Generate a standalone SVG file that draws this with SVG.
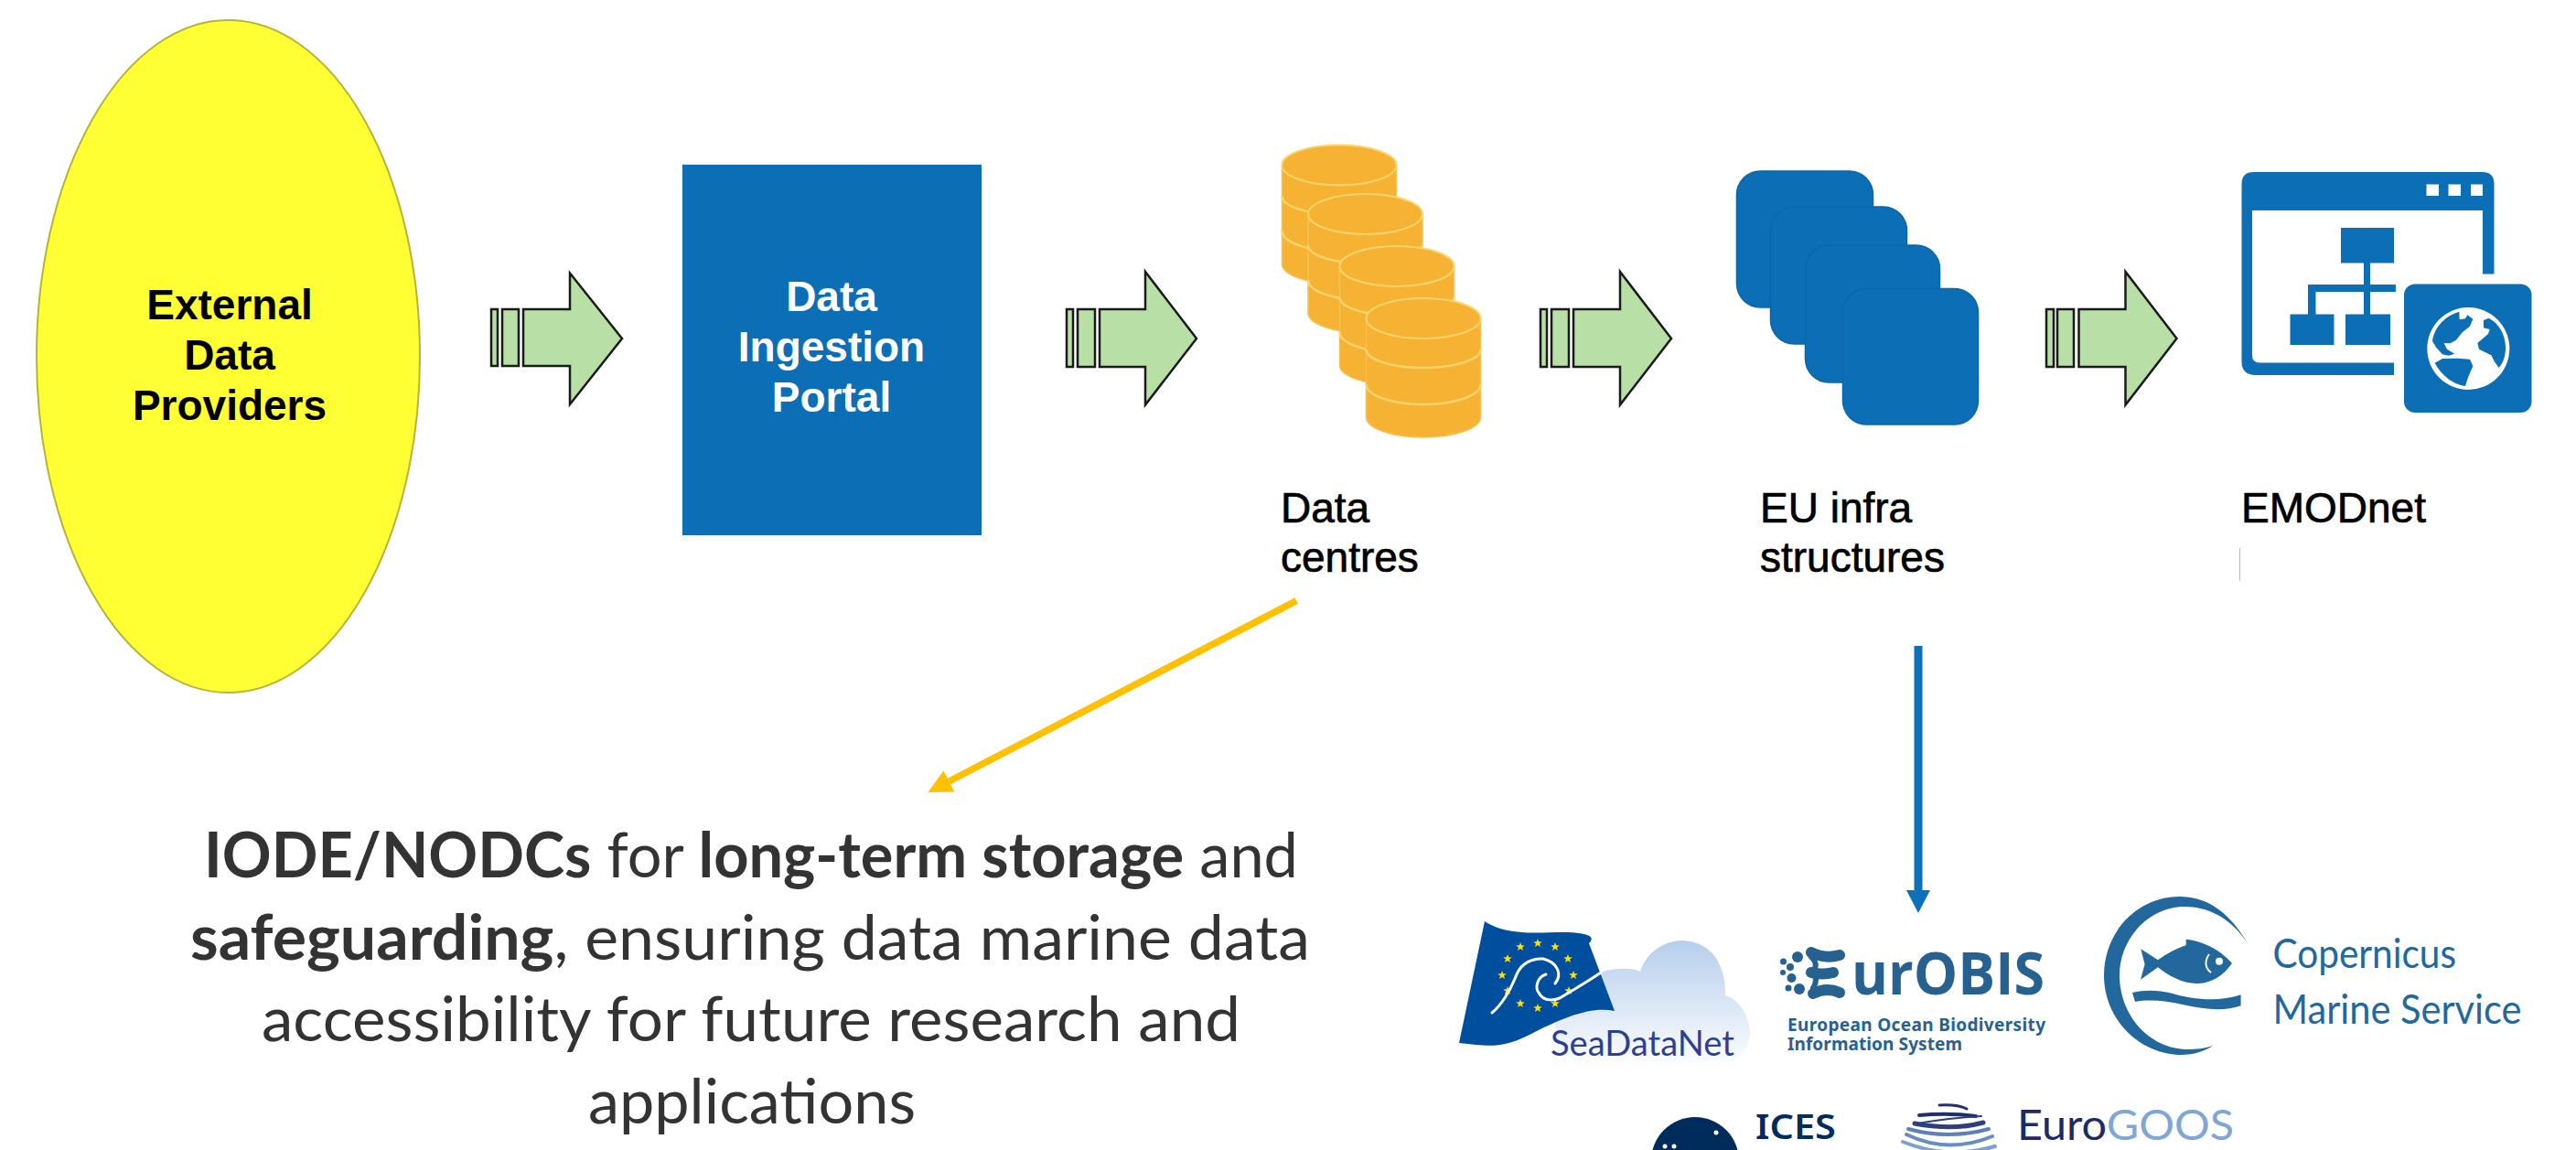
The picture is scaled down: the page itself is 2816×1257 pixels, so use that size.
<svg xmlns="http://www.w3.org/2000/svg" width="2816" height="1257" viewBox="0 0 2816 1257">
<style>
.ar{font-family:"Liberation Sans",Arial,sans-serif;font-size:46px}
.b{font-weight:bold}
.ctr{text-anchor:middle}
.lb{stroke:#000;stroke-width:.7}
.cal{font-family:Lato,"Open Sans",sans-serif;font-size:68px;fill:#333}
.blue{fill:#0c6fb5}
.sq{fill:#0c6fb5;stroke:#0b66ac;stroke-width:1.5}
.bar{fill:#b7dfa6;stroke:#1a1a1a;stroke-width:2.5}
.cyl{fill:#f6b233;stroke:#f8c052;stroke-width:1.5}
.top{fill:#f6b233;stroke:#fbd56b;stroke-width:2}
.rim{fill:none;stroke:#fbd56b;stroke-width:2.5}
.wave{fill:none;stroke:#fff;stroke-width:3;stroke-linecap:round}
.obis{fill:#27618f}
.cop{fill:#22689c}
.egs{fill:none;stroke-linecap:round}
</style>
<defs>
<marker id="hy" markerUnits="userSpaceOnUse" markerWidth="26" markerHeight="26" viewBox="0 0 26 26" refX="0" refY="13" orient="auto"><path d="M0,0L26,13L0,26Z" fill="#ffc000"/></marker>
<marker id="hb" markerUnits="userSpaceOnUse" markerWidth="25" markerHeight="26" viewBox="0 0 25 26" refX="0" refY="13" orient="auto"><path d="M0,0L25,13L0,26Z" fill="#0c71b8"/></marker>
<g id="cy">
<path class="cyl" d="M-62.5,0V108A62.5,22 0 0 0 62.5,108V0Z"/>
<ellipse class="top" cx="0" cy="0" rx="62.5" ry="22"/>
<path class="rim" d="M-62.5,34A62.5,20 0 0 0 62.5,34M-62.5,72A62.5,22 0 0 0 62.5,72"/>
</g>
<path id="st" d="M0,-5L1.2,-1.7 4.8,-1.5 2,.6 3,4 0,2.1 -3,4 -2,.6 -4.8,-1.5 -1.2,-1.7Z" fill="#ffe100"/>
<linearGradient id="cl" x1="0" y1="0" x2="0" y2="1"><stop offset="0" stop-color="#b6ceec"/><stop offset="1" stop-color="#fff"/></linearGradient>
</defs>
<rect width="2816" height="1257" fill="#fff"/>

<g id="external-data-providers">
<ellipse cx="249.5" cy="389.5" rx="209.5" ry="367.5" fill="#ffff33" stroke="#b5b43a" stroke-width="2"/>
<text class="ar b ctr" x="251" y="349">External</text>
<text class="ar b ctr" x="251" y="404">Data</text>
<text class="ar b ctr" x="251" y="459">Providers</text>
</g>

<g id="data-ingestion-portal">
<rect class="blue" x="746" y="180" width="327" height="405"/>
<text class="ar b ctr" x="909" y="340" fill="#fff">Data</text>
<text class="ar b ctr" x="909" y="395" fill="#fff">Ingestion</text>
<text class="ar b ctr" x="909" y="450" fill="#fff">Portal</text>
</g>

<g id="data-centres">
<use href="#cy" x="1464" y="180.5"/>
<use href="#cy" x="1492.5" y="234"/>
<use href="#cy" x="1527" y="291"/>
<use href="#cy" x="1556" y="348"/>
<text class="ar lb" x="1400" y="571">Data</text>
<text class="ar lb" x="1400" y="625">centres</text>
</g>

<g id="eu-infrastructures">
<rect class="sq" x="1898.5" y="187" width="149" height="149" rx="26"/>
<rect class="sq" x="1935.5" y="226" width="149" height="150" rx="26"/>
<rect class="sq" x="1973.5" y="268" width="147" height="150" rx="26"/>
<rect class="sq" x="2014.5" y="315.5" width="148" height="148.5" rx="26"/>
<text class="ar lb" x="1924" y="571">EU infra</text>
<text class="ar lb" x="1924" y="625">structures</text>
</g>

<g id="emodnet">
<path class="blue" d="M2464,188H2713Q2726.5,188 2726.5,201V299.5H2714V230H2462V388Q2462,396.5 2470,396.5H2617V410H2466Q2450.5,410 2450.5,395V201Q2450.5,188 2464,188Z"/>
<g fill="#fff"><rect x="2652.5" y="201.5" width="13.5" height="12.5"/><rect x="2676.5" y="201.5" width="13.5" height="12.5"/><rect x="2701" y="201.5" width="13" height="12.5"/></g>
<g class="blue">
<rect x="2559" y="249" width="58" height="38.5"/>
<rect x="2584" y="287" width="7" height="57"/>
<rect x="2523" y="311" width="96" height="8"/>
<rect x="2523" y="311" width="8.5" height="33"/>
<rect x="2503.5" y="343.5" width="48" height="33.5"/>
<rect x="2564" y="343.5" width="49" height="33.5"/>
<rect x="2628" y="310.5" width="139.5" height="140.5" rx="12"/>
</g>
<circle cx="2698.3" cy="381" r="45" fill="#fff"/>
<g class="blue" transform="translate(2620,300) scale(.33333)">
<path d="M117,218C125,170 160,135 205,122L206,148 225,145 232,133 250,146 240,170 215,190 195,215 175,226 155,225 165,245 190,260 170,266 150,262 130,240Z"/>
<path d="M285,150L302,143C335,160 355,195 357,235 358,265 350,290 335,306L320,285 310,265 270,245 265,225 300,195 305,180 285,175Z"/>
<path d="M125,290L150,276 200,275 240,278 250,300 235,335 225,366C185,360 145,330 125,290Z"/>
</g>
<text class="ar lb" x="2450" y="571">EMODnet</text>
<rect x="2448" y="599" width="1" height="36" fill="#bbb"/>
</g>

<g id="connectors">
<g id="flow-1"><rect class="bar" x="537" y="338" width="7" height="62"/><rect class="bar" x="549" y="338" width="18" height="62"/><path class="bar" d="M572,338H623V298.5L680,370 623,442V400H572Z"/></g>
<g id="flow-2"><rect class="bar" x="1166" y="338" width="7" height="63"/><rect class="bar" x="1178" y="338" width="19" height="63"/><path class="bar" d="M1202,338H1252V297L1308,370 1252,442.5V401H1202Z"/></g>
<g id="flow-3"><rect class="bar" x="1684" y="338" width="7" height="63"/><rect class="bar" x="1696" y="338" width="19" height="63"/><path class="bar" d="M1720,338H1771V297L1827,370 1771,442.5V401H1720Z"/></g>
<g id="flow-4"><rect class="bar" x="2237" y="338" width="8" height="63"/><rect class="bar" x="2249" y="338" width="18" height="63"/><path class="bar" d="M2272.5,338H2323.5V297L2379.5,370 2323.5,442.5V401H2272.5Z"/></g>
<line x1="1417.3" y1="656.7" x2="1037.5" y2="854" stroke="#ffc000" stroke-width="7.5" marker-end="url(#hy)"/>
<line x1="2097" y1="706" x2="2097" y2="973" stroke="#0c71b8" stroke-width="9" marker-end="url(#hb)"/>
</g>

<g id="iode-note">
<text class="cal" x="223" y="959" textLength="1196" lengthAdjust="spacingAndGlyphs"><tspan class="b">IODE/NODCs</tspan> for <tspan class="b">long-term storage</tspan> and</text>
<text class="cal" x="208" y="1049" textLength="1224" lengthAdjust="spacingAndGlyphs"><tspan class="b">safeguarding</tspan>, ensuring data marine data</text>
<text class="cal" x="286" y="1138" textLength="1070" lengthAdjust="spacingAndGlyphs">accessibility for future research and</text>
<text class="cal" x="643" y="1228" textLength="358" lengthAdjust="spacingAndGlyphs">applications</text>
</g>

<g id="seadatanet">
<path fill="url(#cl)" d="M1750,1063C1765,1057 1785,1058 1793,1062 1800,1040 1820,1028 1840,1028 1873,1030 1887,1057 1886,1088 1903,1093 1913,1113 1913,1130 1912,1150 1897,1165 1863,1168H1747C1713,1167 1700,1140 1700,1113Z"/>
<path fill="#004f9f" d="M1623,1007C1650,1025 1690,1018 1713,1019 1735,1020 1745,1023 1737,1031L1765,1105C1740,1100 1713,1110 1670,1132 1640,1147 1625,1143 1595,1140Z"/>
<g>
<use href="#st" x="1681" y="1031"/><use href="#st" x="1700" y="1035"/><use href="#st" x="1714" y="1048"/><use href="#st" x="1720" y="1066"/><use href="#st" x="1715" y="1083"/><use href="#st" x="1700" y="1097"/><use href="#st" x="1681" y="1102"/><use href="#st" x="1662" y="1097"/><use href="#st" x="1648" y="1083"/><use href="#st" x="1642" y="1066"/><use href="#st" x="1648" y="1048"/><use href="#st" x="1662" y="1035"/>
</g>
<path class="wave" d="M1631,1107C1643,1097 1652,1080 1658,1065 1663,1053 1675,1047 1687,1048 1703,1052 1708,1065 1700,1075"/>
<path class="wave" d="M1690,1065C1680,1068 1678,1080 1682,1085 1687,1095 1700,1095 1710,1088 1723,1080 1737,1072 1750,1063"/>
<text x="1695" y="1154" font-family="Lato,sans-serif" font-size="39" fill="#2e3f92" textLength="201" lengthAdjust="spacingAndGlyphs">SeaDataNet</text>
</g>

<g id="eurobis">
<g class="obis">
<circle cx="1965" cy="1046" r="6"/><circle cx="1949.5" cy="1051" r="3.5"/><circle cx="1957" cy="1057" r="4"/><circle cx="1949" cy="1063" r="3"/><circle cx="1958.5" cy="1069" r="5"/><circle cx="1967" cy="1081" r="6"/><circle cx="1955" cy="1080" r="3.5"/>
</g>
<path d="M1980,1041C1990,1046 2000,1047 2011,1044M1980,1063C1988,1065 1996,1065 2004,1063M1982,1086C1992,1081 2002,1081 2011,1085" fill="none" stroke="#27618f" stroke-width="12" stroke-linecap="round"/>
<path d="M1980,1046C1986,1052 1986,1056 1982,1062 1986,1068 1986,1074 1982,1080" fill="none" stroke="#27618f" stroke-width="6" stroke-linecap="round"/>
<text class="obis" x="2024" y="1087" font-family="Open Sans,sans-serif" font-weight="700" font-size="65" textLength="211" lengthAdjust="spacingAndGlyphs">urOBIS</text>
<text class="obis" x="1954" y="1127" font-family="Noto Sans,sans-serif" font-weight="700" font-size="19" textLength="282">European Ocean Biodiversity</text>
<text class="obis" x="1954" y="1148" font-family="Noto Sans,sans-serif" font-weight="700" font-size="19" textLength="191">Information System</text>
</g>

<g id="copernicus">
<path class="cop" d="M2459,1035C2440,1000 2415,980 2383,980 2335,980 2300,1020 2300,1066 2300,1115 2340,1153 2385,1153 2398,1153 2410,1149 2419,1143 2410,1146 2400,1147 2392,1147 2350,1147 2317,1110 2317,1066 2317,1025 2350,991 2388,991 2420,991 2445,1010 2459,1035Z"/>
<path class="cop" d="M2340.3,1037.3L2359,1049.3C2368,1043 2378,1037 2389.7,1033.3V1026.7C2405,1028 2425,1036 2440,1052.7 2430,1068 2415,1075 2401.6,1075 2385,1075 2370,1066 2359,1057.3L2340,1070.7 2344.6,1054Z"/>
<path d="M2415,1043C2410,1050 2410,1058 2417,1063" fill="none" stroke="#fff" stroke-width="2"/>
<circle cx="2426" cy="1050.7" r="4" fill="#fff"/>
<path class="cop" d="M2331,1085C2345,1082 2358,1082 2375,1086 2395,1092 2425,1096 2449.6,1087.3V1099.3C2430,1106 2410,1103 2387,1098.3 2368,1094 2350,1092 2334,1095Z"/>
<text class="cop" x="2484.5" y="1058" font-family="Lato,sans-serif" font-size="44" textLength="200.5" lengthAdjust="spacingAndGlyphs">Copernicus</text>
<text class="cop" x="2484.5" y="1119" font-family="Lato,sans-serif" font-size="44" textLength="272" lengthAdjust="spacingAndGlyphs">Marine Service</text>
</g>

<g id="ices">
<circle cx="1853" cy="1269" r="48" fill="#002c5b"/>
<circle cx="1876" cy="1238" r="2.5" fill="#fff"/><circle cx="1820" cy="1253" r="2.5" fill="#fff"/><circle cx="1830" cy="1253" r="2.5" fill="#fff"/>
<text x="1919" y="1245" font-family="Noto Sans,sans-serif" font-weight="600" font-size="38" fill="#002c5b" textLength="88" lengthAdjust="spacingAndGlyphs">ICES</text>
</g>

<g id="eurogoos">
<g class="egs">
<path d="M2120,1208Q2140,1207 2150,1212" stroke="#22306c" stroke-width="3"/>
<path d="M2098,1219Q2130,1216 2160,1220" stroke="#1f2f6b" stroke-width="4"/>
<path d="M2096,1228Q2130,1222 2166,1220" stroke="#2b3d7d" stroke-width="2"/>
<path d="M2093,1228Q2135,1236 2168,1227" stroke="#2f3f7e" stroke-width="5"/>
<path d="M2086,1234Q2130,1246 2174,1234" stroke="#5d81b6" stroke-width="4"/>
<path d="M2084,1240Q2130,1262 2178,1242" stroke="#6a8dbf" stroke-width="4"/>
<path d="M2080,1248Q2130,1268 2181,1253" stroke="#7ea1cf" stroke-width="4"/>
</g>
<text x="2205" y="1246" font-family="Lato,sans-serif" font-size="46" textLength="237" lengthAdjust="spacingAndGlyphs"><tspan fill="#1f2a63">Euro</tspan><tspan fill="#7fa6d4">GOOS</tspan></text>
</g>
</svg>
